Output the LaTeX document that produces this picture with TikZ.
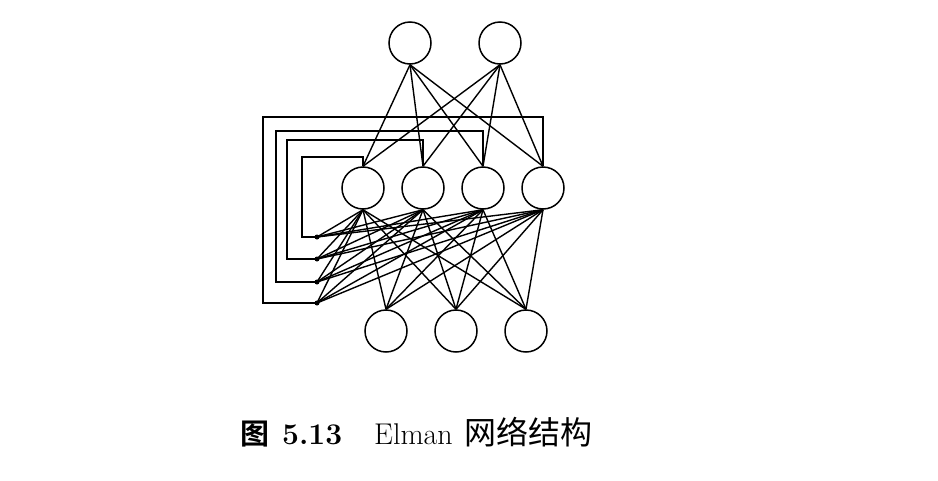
\documentclass[tikz,border=0pt]{standalone}
\usepackage{fontspec}
\newfontfamily\cjk{Noto Sans CJK SC}
\newfontfamily\cjkb{Noto Sans CJK SC Bold}
\begin{document}
\begin{tikzpicture}[x=1pt,y=-1pt,
  neuron/.style={circle,draw,line width=1.5pt,minimum size=42pt,inner sep=0pt},
  ctx/.style={circle,fill,minimum size=5pt,inner sep=0pt},
  conn/.style={line width=1.4pt},
  captext/.style={anchor=base west,inner sep=0pt,font=\fontsize{30}{34}\selectfont}]
\useasboundingbox (0,0) rectangle (938,480);
% output layer (top)
\node[neuron] (t1) at (410,43) {};
\node[neuron] (t2) at (500,43) {};
% hidden layer
\node[neuron] (h1) at (363,188) {};
\node[neuron] (h2) at (423,188) {};
\node[neuron] (h3) at (483,188) {};
\node[neuron] (h4) at (543,188) {};
% input layer (bottom)
\node[neuron] (b1) at (386,331) {};
\node[neuron] (b2) at (456,331) {};
\node[neuron] (b3) at (526,331) {};
% context units
\node[ctx] (c1) at (317,237) {};
\node[ctx] (c2) at (317,259) {};
\node[ctx] (c3) at (317,282) {};
\node[ctx] (c4) at (317,303) {};
% turn points for feedback
\coordinate (f1) at (302,157);
\coordinate (f2) at (287,140);
\coordinate (f3) at (276,131);
\coordinate (f4) at (263,117);
% hidden -> output
\foreach \t in {t1,t2}
  \foreach \h in {h1,h2,h3,h4}
    \draw[conn] (\t.south) -- (\h.north);
% input -> hidden
\foreach \h in {h1,h2,h3,h4}
  \foreach \b in {b1,b2,b3}
    \draw[conn] (\h.south) -- (\b.north);
% context -> hidden
\foreach \h in {h1,h2,h3,h4}
  \foreach \c in {c1,c2,c3,c4}
    \draw[conn] (\h.south) -- (\c.center);
% feedback loops
\draw[conn] (h1.north) |- (f1) |- (c1.center);
\draw[conn] (h2.north) |- (f2) |- (c2.center);
\draw[conn] (h3.north) |- (f3) |- (c3.center);
\draw[conn] (h4.north) |- (f4) |- (c4.center);
% caption
\node[captext,font=\fontsize{29}{34}\selectfont] (cap1) at (240,444) {\cjkb 图};
\node[captext] (cap2) at (282,444) {\bfseries 5.13};
\node[captext] (cap3) at (374,444) {Elman};
\node[captext,font=\fontsize{32}{36}\selectfont] (cap4) at (464,444) {\cjk 网络结构};
\end{tikzpicture}
\end{document}
